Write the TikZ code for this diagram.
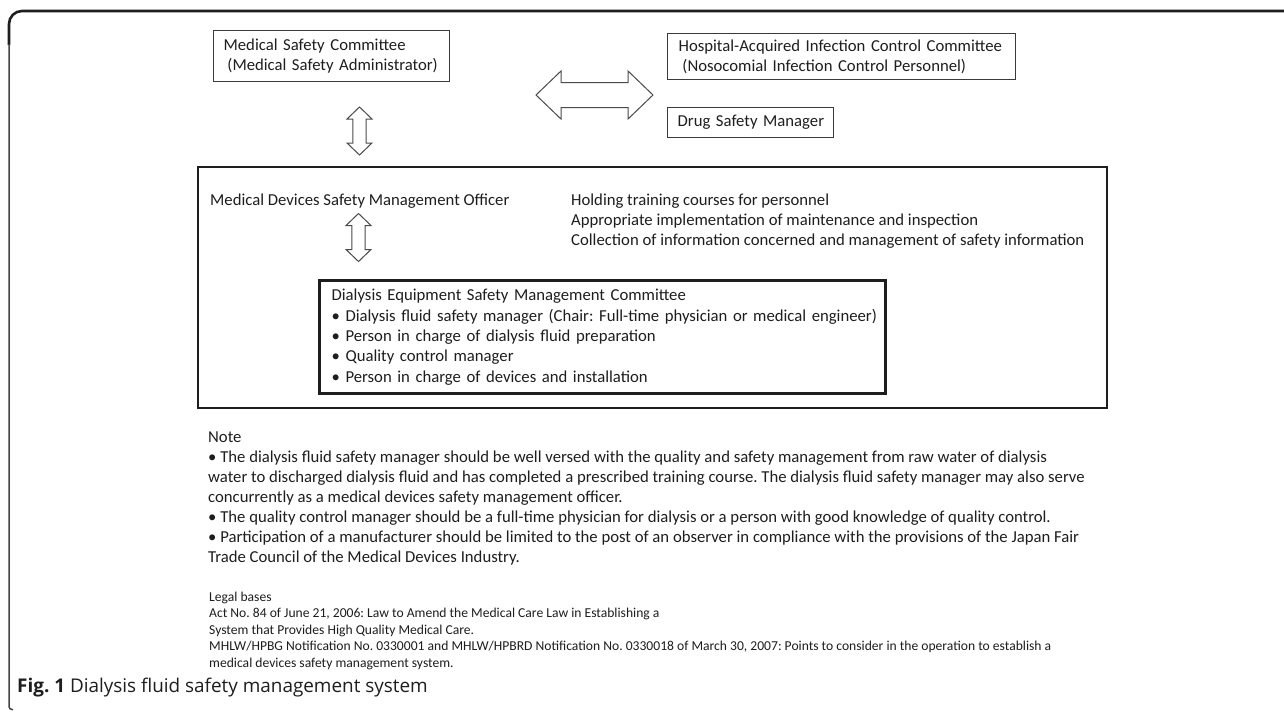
\documentclass[tikz,border=0pt]{standalone}
\usepackage{fontspec}
\setmainfont{Carlito}
\newfontfamily\capfont{Open Sans}
\definecolor{ink}{HTML}{1E1E1E}
\definecolor{boxline}{HTML}{3A3A3A}
\definecolor{arrline}{HTML}{4A4A4A}
\definecolor{framegray}{HTML}{444444}
\frenchspacing
\begin{document}
\begin{tikzpicture}[x=1pt,y=-1pt,
  txt/.style={font=\fontsize{16.7pt}{20.4pt}\selectfont, text=ink, inner sep=0pt, anchor=base west},
  smalltxt/.style={font=\fontsize{13.6pt}{16.6pt}\selectfont, text=ink, inner sep=0pt, anchor=base west},
  box/.style={draw=boxline, line width=1.3pt, anchor=north west, align=left, inner ysep=0pt,
              font=\fontsize{16.7pt}{20.4pt}\selectfont, text=ink},
  arrstyle/.style={draw=arrline, line width=1pt, fill=white, line join=miter},
  vdarrow/.pic={\draw[arrstyle] (0,-24) -- (12.5,-12) -- (6.7,-12) -- (6.7,12) -- (12.5,12) -- (0,24)
        -- (-12.5,12) -- (-6.7,12) -- (-6.7,-12) -- (-12.5,-12) -- cycle;},
  hdarrow/.pic={\draw[arrstyle] (-58.5,0) -- (-33.5,-24) -- (-33.5,-12.5) -- (33.5,-12.5) -- (33.5,-24)
        -- (58.5,0) -- (33.5,24) -- (33.5,12.5) -- (-33.5,12.5) -- (-33.5,24) -- cycle;}
]
\useasboundingbox[fill=white] (0,0) rectangle (1284,712);

% frame
\draw[draw=ink, line width=2.6pt, rounded corners=13pt] (1290,11) -- (9,11) -- (9,45);
\draw[draw=framegray, line width=1.5pt, rounded corners=3pt] (9,44) -- (9,709.5) -- (13,709.5);

% top boxes
\node[box, inner xsep=10pt, text width=216pt, minimum height=51pt] (msc) at (213,30)
  {\mbox{Medical Safety Committee}\\\mbox{\hspace*{3.8pt}(Medical Safety Administrator)}};
\node[box, inner xsep=11pt, text width=326pt, minimum height=46pt] (hai) at (667,33)
  {\mbox{Hospital-Acquired Infection Control Committee}\\\mbox{\hspace*{3.8pt}(Nosocomial Infection Control Personnel)}};
\node[box, inner xsep=10pt, text width=146pt, minimum height=30pt] (dsm) at (667,107)
  {\mbox{Drug Safety Manager}};

% arrows
\pic (a1) at (359.5,131) {vdarrow};
\pic (a2) at (358.5,237.5) {vdarrow};
\pic (a3) at (594.5,95) {hdarrow};

% main box
\node[draw=ink, line width=2.2pt, anchor=north west, minimum width=909pt, minimum height=241pt, inner sep=0pt] (mdo) at (197,166) {};
\node[txt] (mdoT) at (210,205) {Medical Devices Safety Management Officer};
\node[txt] (task1) at (571,205) {Holding training courses for personnel};
\node[txt] (task2) at (571,225.4) {Appropriate implementation of maintenance and inspection};
\node[txt] (task3) at (571,245.8) {Collection of information concerned and management of safety information};

% inner committee box
\node[box, draw=ink, line width=3.3pt, inner xsep=12pt, text width=542pt, minimum height=113pt] (desc) at (318,279)
  {\mbox{Dialysis Equipment Safety Management Committee}\\
   \mbox{• Dialysis fluid safety manager (Chair: Full-time physician or medical engineer)}\\
   \mbox{• Person in charge of dialysis fluid preparation}\\
   \mbox{• Quality control manager}\\
   \mbox{• Person in charge of devices and installation}};

% note
\foreach \t [count=\i from 0] in {
  {Note},
  {• The dialysis fluid safety manager should be well versed with the quality and safety management from raw water of dialysis},
  {water to discharged dialysis fluid and has completed a prescribed training course. The dialysis fluid safety manager may also serve},
  {concurrently as a medical devices safety management officer.},
  {• The quality control manager should be a full-time physician for dialysis or a person with good knowledge of quality control.},
  {• Participation of a manufacturer should be limited to the post of an observer in compliance with the provisions of the Japan Fair},
  {Trade Council of the Medical Devices Industry.}}
  \node[txt] (note\i) at (208,442+20*\i) {\t};

% legal bases
\foreach \t [count=\i from 0] in {
  {Legal bases},
  {Act No. 84 of June 21, 2006: Law to Amend the Medical Care Law in Establishing a},
  {System that Provides High Quality Medical Care.},
  {MHLW/HPBG Notification No. 0330001 and MHLW/HPBRD Notification No. 0330018 of March 30, 2007: Points to consider in the operation to establish a},
  {medical devices safety management system.}}
  \node[smalltxt] (legal\i) at (209,601+16.6*\i) {\t};

% caption
\node[anchor=base west, inner sep=0pt, font=\capfont\fontsize{18.9pt}{21pt}\selectfont, text=ink] (cap) at (17,692)
  {\textbf{Fig. 1} Dialysis fluid safety management system};
\end{tikzpicture}
\end{document}
